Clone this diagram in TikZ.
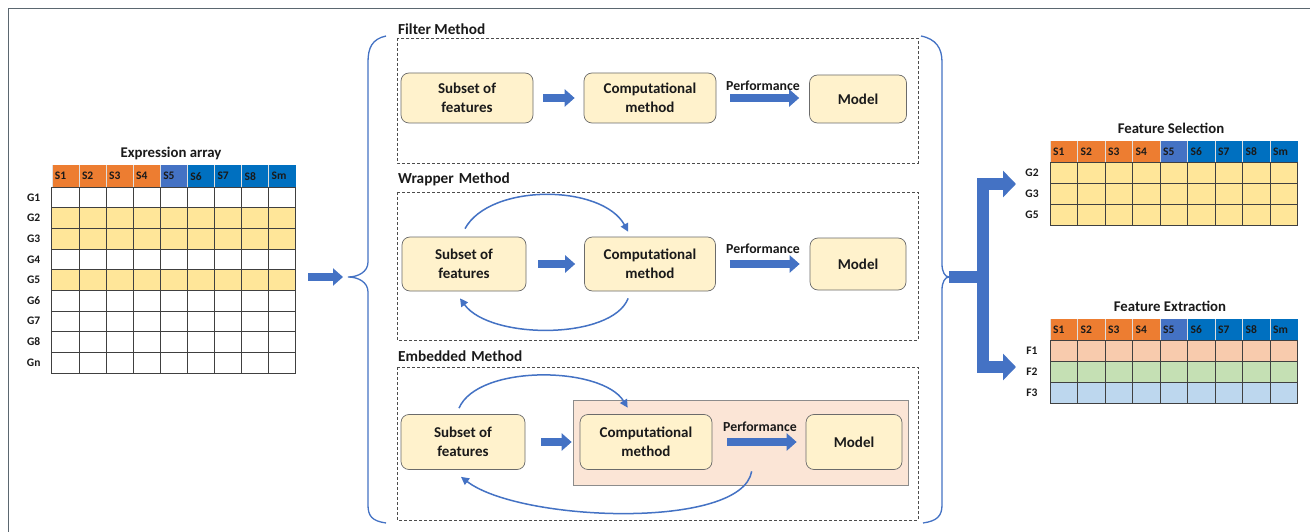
\documentclass[tikz,border=0pt]{standalone}
\usepackage{fontspec}
\setmainfont{Carlito}
\usetikzlibrary{arrows.meta,calc}
\definecolor{hdrorange}{HTML}{ED7D31}
\definecolor{hdrblueA}{HTML}{4472C4}
\definecolor{hdrblueB}{HTML}{0070C0}
\definecolor{rowyellow}{HTML}{FFE699}
\definecolor{rowwhite}{HTML}{FFFFFF}
\definecolor{rowpeach}{HTML}{F8CBAD}
\definecolor{rowgreen}{HTML}{C5E0B4}
\definecolor{rowblue}{HTML}{BDD7EE}
\definecolor{boxfill}{HTML}{FFF2CC}
\definecolor{boxline}{HTML}{6B6B6B}
\definecolor{arrowblue}{HTML}{4472C4}
\definecolor{pinkfill}{HTML}{FBE5D6}
\definecolor{framegray}{HTML}{5B6770}
\definecolor{txt}{HTML}{1A1A1A}
\tikzset{
  hdrtext/.style={anchor=west,inner sep=0pt,text=txt,font=\fontsize{11.5}{13}\selectfont\bfseries},
  rowlab/.style={inner sep=0pt,text=txt,font=\fontsize{11.5}{13}\selectfont\bfseries},
  cellline/.style={draw=black!75,line width=0.6pt},
  tabtitle/.style={inner sep=0pt,text=txt,font=\fontsize{14.8}{17}\selectfont\bfseries},
  methtitle/.style={anchor=west,inner sep=0pt,text=txt,font=\fontsize{15.3}{17}\selectfont\bfseries},
  dbox/.style={draw=black!70,line width=0.8pt,dash pattern=on 3pt off 2pt},
  procbox/.style={draw=boxline,fill=boxfill,rounded corners=8pt,line width=0.7pt,align=center,
    text=txt,font=\fontsize{15}{19}\selectfont\bfseries,inner sep=0pt},
  perflab/.style={inner sep=0pt,text=txt,font=\fontsize{13.8}{15}\selectfont\bfseries},
  blockarrow/.style={draw=arrowblue,line width=8pt,-{Triangle[length=10pt,width=17pt]}},
  bigconn/.style={draw=arrowblue,line width=12pt,line join=miter,-{Triangle[length=13pt,width=26pt]}},
  curvearrow/.style={draw=arrowblue,line width=1.5pt,-{Triangle[length=8pt,width=8pt]}},
  bracestyle/.style={draw=arrowblue,line width=1.3pt}
}
\newcommand\gridtable[6]{% #1 x, #2 y, #3 col width, #4 row height, #5 rows, #6 prefix
  \foreach \lab/\col [count=\i from 0] in {S1/hdrorange,S2/hdrorange,S3/hdrorange,S4/hdrorange,S5/hdrblueA,S6/hdrblueB,S7/hdrblueB,S8/hdrblueB,Sm/hdrblueB}{
    \fill[\col] ({#1+\i*#3},#2) rectangle ++(#3,21.5);
    \draw[white!75!gray,line width=0.4pt] ({#1+\i*#3},#2) -- ++(0,21.5);
    \node[hdrtext] (#6h\i) at ({#1+\i*#3+3},{#2+10.75}) {\lab};
  }
  \foreach \rl/\rc [count=\j from 0] in {#5}{
    \foreach \i in {0,...,8}{
      \draw[cellline,fill=\rc] ({#1+\i*#3},{#2+21.5+\j*#4}) rectangle ++(#3,#4);
    }
    \node[rowlab] (#6r\j) at ({#1-18},{#2+21.5+\j*#4+#4/2}) {\rl};
  }
}
\begin{document}
\begin{tikzpicture}[x=1pt,y=-1pt]
\useasboundingbox (0,0) rectangle (1310,532);
\fill[white] (0,0) rectangle (1310,532);
\draw[framegray,line width=1pt] (8,532) -- (8,9) -- (1310,9);

% Expression array
\node[tabtitle] (eatitle) at (171,153) {Expression array};
\gridtable{51.7}{165.5}{27.1}{20.65}{G1/rowwhite,G2/rowyellow,G3/rowyellow,G4/rowwhite,G5/rowyellow,G6/rowwhite,G7/rowwhite,G8/rowwhite,Gn/rowwhite}{ea}
\coordinate (eaR) at (296,277);

% left brace
\coordinate (lbtip) at (348,277);
\draw[bracestyle] (386,36) .. controls (372,39) and (368,48) .. (368,62) -- (368,262)
  .. controls (368,272) and (358,277) .. (lbtip)
  .. controls (358,277) and (368,282) .. (368,292) -- (368,505)
  .. controls (368,516) and (372,521) .. (386,523);
\draw[blockarrow,shorten <=12pt,shorten >=5pt] (eaR) -- (lbtip);

% right brace
\coordinate (rbtip) at (949,277);
\draw[bracestyle] (921,36) .. controls (936,39) and (942,48) .. (942,62) -- (942,264)
  .. controls (942,272) and (945,277) .. (rbtip)
  .. controls (945,277) and (942,282) .. (942,290) -- (942,505)
  .. controls (942,516) and (937,521) .. (923,523);

% Filter method
\node[methtitle] (ftitle) at (398,29) {Filter Method};
\draw[dbox] (397,38) rectangle (918,163);
\node[procbox,minimum width=132pt,minimum height=50pt] (sub1) at (467,98) {Subset of\\features};
\node[procbox,minimum width=132pt,minimum height=50pt] (comp1) at (650,98) {Computational\\method};
\node[procbox,minimum width=97pt,minimum height=48pt] (model1) at (858,99) {Model};
\draw[blockarrow,shorten <=10pt,shorten >=9pt] (sub1) -- (comp1);
\draw[blockarrow,shorten <=14pt,shorten >=10pt] (comp1) -- (model1.west |- comp1);
\node[perflab] (perf1) at (763,86) {Performance};

% Wrapper method
\node[methtitle] (wtitle) at (398,179) {Wrapper\hspace{5pt}Method};
\draw[dbox] (397,192) rectangle (918,340);
\node[procbox,minimum width=124pt,minimum height=54pt] (sub2) at (464,264) {Subset of\\features};
\node[procbox,minimum width=131pt,minimum height=54pt] (comp2) at (650,264) {Computational\\method};
\node[procbox,minimum width=96pt,minimum height=52pt] (model2) at (858,264) {Model};
\draw[blockarrow,shorten <=12pt,shorten >=9pt] (sub2) -- (comp2);
\draw[blockarrow,shorten <=14pt,shorten >=10pt] (comp2) -- (model2);
\node[perflab] (perf2) at (763,249) {Performance};
\draw[curvearrow] ($(sub2.north)+(1,-8)$) .. controls (490,183) and (602,184) .. ($(comp2.north west)+(44,-5)$);
\draw[curvearrow] ($(comp2.south west)+(44,7)$) .. controls (612,340) and (490,340) .. ($(sub2.south)+(-4,7)$);

% Embedded method
\node[methtitle] (etitle) at (398,356) {Embedded\hspace{5pt}Method};
\draw[dbox] (397,367) rectangle (918,520);
\node[draw=black!45,fill=pinkfill,line width=0.7pt,minimum width=335pt,minimum height=85pt,inner sep=0pt] (embox) at (740.5,442.5) {};
\node[procbox,minimum width=124pt,minimum height=55pt] (sub3) at (463,442) {Subset of\\features};
\node[procbox,minimum width=132pt,minimum height=55pt] (comp3) at (646,442) {Computational\\method};
\node[procbox,minimum width=96pt,minimum height=55pt] (model3) at (854,442) {Model};
\draw[blockarrow,shorten <=16pt,shorten >=8pt] (sub3) -- (comp3);
\draw[blockarrow,shorten <=15pt,shorten >=9pt] (comp3) -- (model3);
\node[perflab] (perf3) at (760,427) {Performance};
\draw[curvearrow] ($(sub3.north)+(-4,-6)$) .. controls (478,364) and (602,366) .. ($(embox.north west)+(55,8)$);
\draw[curvearrow] ($(embox.south west)+(179,-14)$) .. controls (742,530) and (520,522) .. ($(sub3.south)+(-2,7)$);

% Right connector
\coordinate (junc) at (983,277);
\coordinate (fsin) at (1016,184);
\coordinate (fein) at (1016,367);
\draw[bigconn] (rbtip) -- (junc) |- (fsin);
\draw[bigconn] (junc) |- (fein);

% Feature Selection
\node[tabtitle] (fstitle) at (1171,128) {Feature Selection};
\gridtable{1050}{141}{27.5}{20.8}{G2/rowyellow,G3/rowyellow,G5/rowyellow}{fs}

% Feature Extraction
\node[tabtitle] (fetitle) at (1170,306) {Feature Extraction};
\gridtable{1050}{319}{27.5}{21}{F1/rowpeach,F2/rowgreen,F3/rowblue}{fe}
\end{tikzpicture}
\end{document}
